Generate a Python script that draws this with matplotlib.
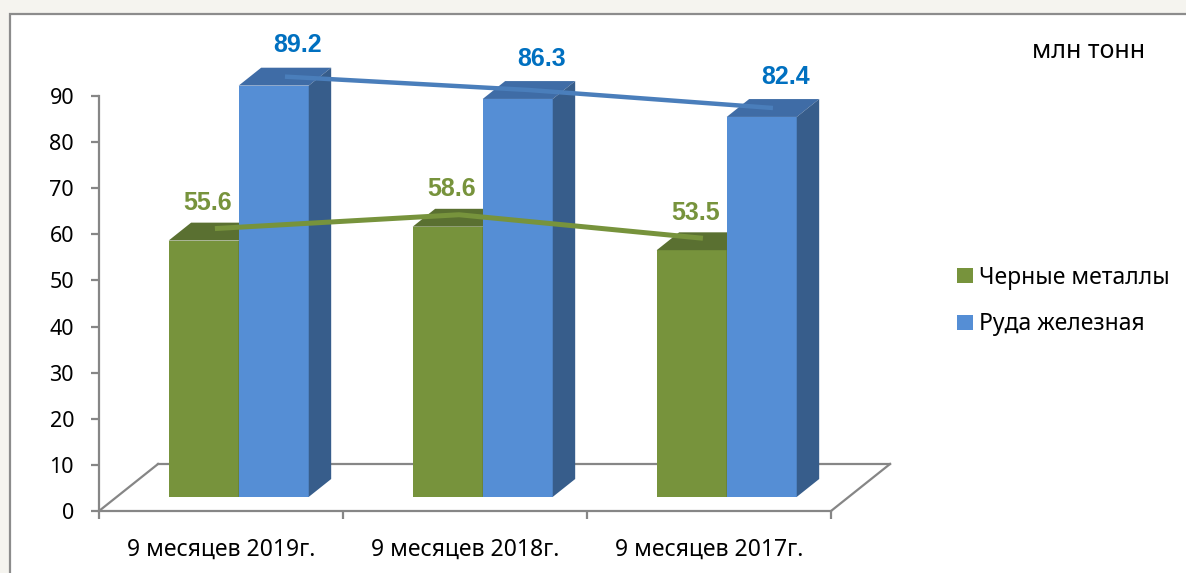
import numpy as np
import matplotlib.pyplot as plt
from matplotlib.patches import Polygon, Rectangle, Patch
from matplotlib import transforms

# data
categories = ['9 месяцев 2019г.', '9 месяцев 2018г.', '9 месяцев 2017г.']
ferrous = [55.6, 58.6, 53.5]
iron_ore = [89.2, 86.3, 82.4]
series_names = ['Черные металлы', 'Руда железная']
yticks = np.arange(0, 100, 10)
unit_label = 'млн тонн'

# colours: front, top, side
green = ('#77933c', '#5a7031', '#4f6228')
blue = ('#558ed5', '#3f6ca6', '#375d8b')
line_colors = ['#77933c', '#4a7ebb']
label_colors = ['#77933c', '#0070c0']
axis_gray = '#868686'

# fake 3d geometry, in category / value units
floor_dx, floor_dy = 0.242, 10.2
bar_w = 0.287
depth0, depth1 = 0.30, 0.68   # bar front / back as fraction of the floor depth

plt.rcParams['font.family'] = ['Noto Sans', 'DejaVu Sans']

W, H = 1186, 573
fig = plt.figure(figsize=(W / 100, H / 100), dpi=100)
fig.patch.set_facecolor('#f5f4ef')
# white chart area with grey border on top / left
fig.patches.append(Rectangle((10 / W, -0.1), 1.1, 1.1 - 14 / H, transform=fig.transFigure,
                             facecolor='white', edgecolor='#8c8c8c', linewidth=1.6, zorder=-1))

ax = fig.add_axes([99 / W, 62 / H, 732 / W, 415 / H])
ax.set_xlim(0, 3)
ax.set_ylim(0, 90)
ax.patch.set_visible(False)
for s in ['top', 'right']:
    ax.spines[s].set_visible(False)
for s in ['left', 'bottom']:
    ax.spines[s].set_color(axis_gray)
    ax.spines[s].set_linewidth(1.6)

# floor
n = len(categories)
floor_kw = dict(color=axis_gray, lw=1.6, clip_on=False, zorder=1)
ax.plot([0, floor_dx], [0, floor_dy], **floor_kw)
ax.plot([floor_dx, n + floor_dx], [floor_dy, floor_dy], **floor_kw)
ax.plot([n, n + floor_dx], [0, floor_dy], **floor_kw)

bdx = (depth1 - depth0) * floor_dx
bdy = (depth1 - depth0) * floor_dy
label_offsets = [(3, 27), (17, 29)]

line_pts = [[], []]
z = 2
for i in range(n):
    for j, (vals, cols) in enumerate([(ferrous, green), (iron_ore, blue)]):
        h = vals[i]
        x0 = i + 0.5 - bar_w + j * bar_w + depth0 * floor_dx
        y0 = depth0 * floor_dy
        front = Rectangle((x0, y0), bar_w, h, facecolor=cols[0], edgecolor='none', clip_on=False, zorder=z)
        top = Polygon([(x0, y0 + h), (x0 + bar_w, y0 + h), (x0 + bar_w + bdx, y0 + h + bdy),
                       (x0 + bdx, y0 + h + bdy)], closed=True, facecolor=cols[1], edgecolor='none',
                      clip_on=False, zorder=z)
        side = Polygon([(x0 + bar_w, y0), (x0 + bar_w + bdx, y0 + bdy), (x0 + bar_w + bdx, y0 + h + bdy),
                        (x0 + bar_w, y0 + h)], closed=True, facecolor=cols[2], edgecolor='none',
                       clip_on=False, zorder=z)
        for p in (front, top, side):
            ax.add_patch(p)
        z += 1
        line_pts[j].append((x0 + bar_w / 2 + bdx / 2, y0 + h + bdy / 2))
        ax.annotate(f'{h:.1f}', (x0 + bar_w / 2, y0 + h), xytext=label_offsets[j], textcoords='offset points',
                    ha='center', va='center', fontsize=18, fontweight='bold', color=label_colors[j],
                    family=['Liberation Sans', 'DejaVu Sans'], annotation_clip=False, zorder=20)

# trend lines over the bar tops
for j in range(2):
    xs = [p[0] for p in line_pts[j]]
    ys = [p[1] for p in line_pts[j]]
    tr = ax.transData
    if j == 0:
        tr = transforms.offset_copy(ax.transData, fig=fig, x=0, y=3, units='dots')
    ax.plot(xs, ys, color=line_colors[j], lw=3.2 if j == 1 else 3.6, solid_capstyle='butt',
            clip_on=False, zorder=15, transform=tr)

# ticks
ax.set_yticks(yticks)
ax.tick_params(axis='y', direction='out', length=6, width=1.6, color=axis_gray, labelsize=15.5, pad=12)
ax.set_xticks(range(n + 1))
ax.set_xticklabels([])
ax.set_xticks([i + 0.5 for i in range(n)], minor=True)
ax.set_xticklabels(categories, minor=True)
ax.tick_params(axis='x', which='major', direction='out', length=6, width=1.6, color=axis_gray)
ax.tick_params(axis='x', which='minor', length=0, labelsize=16.5, pad=19)

handles = [Patch(facecolor=green[0]), Patch(facecolor=blue[0])]
fig.legend(handles, series_names, loc='center left', bbox_to_anchor=(957 / W, 1 - 301 / H),
           frameon=False, fontsize=16.5, handlelength=0.68, handleheight=0.68, handletextpad=0.3,
           labelspacing=1.0, borderpad=0, borderaxespad=0)

fig.text(1089 / W, 1 - 52 / H, unit_label, ha='center', va='center', fontsize=18)

fig.savefig('out.png', dpi=100, facecolor=fig.get_facecolor())
